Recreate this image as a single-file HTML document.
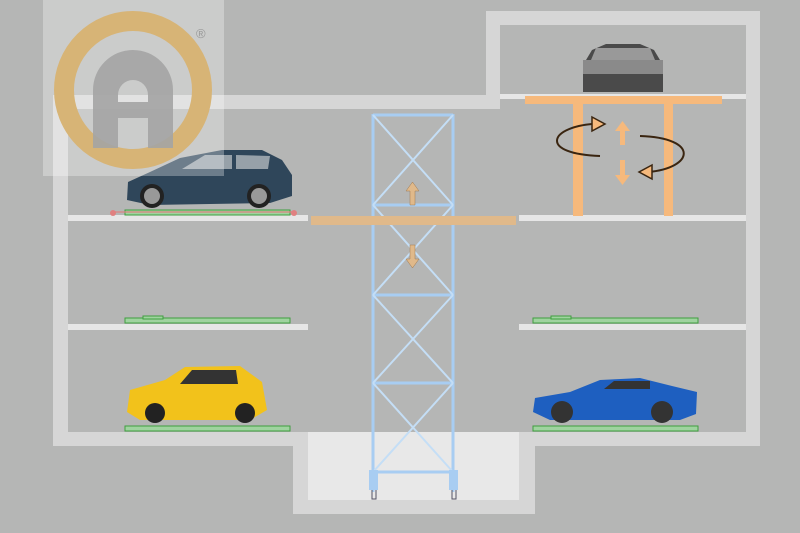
<!DOCTYPE html>
<html><head><meta charset="utf-8"><style>html,body{margin:0;padding:0;background:#b5b6b5}svg{display:block}</style></head>
<body>
<svg width="800" height="533" viewBox="0 0 800 533" xmlns="http://www.w3.org/2000/svg">
<rect width="800" height="533" fill="#b5b6b5"/>
<!-- walls -->
<g fill="#d6d6d6">
<rect x="53" y="95" width="447" height="14"/>
<rect x="486" y="11" width="274" height="14"/>
<rect x="486" y="11" width="14" height="98"/>
<rect x="746" y="11" width="14" height="435"/>
<rect x="53" y="95" width="15" height="351"/>
<rect x="53" y="432" width="255" height="14"/>
<rect x="519" y="432" width="241" height="14"/>
<rect x="293" y="432" width="15" height="82"/>
<rect x="519" y="432" width="16" height="82"/>
<rect x="293" y="500" width="242" height="14"/>
</g>
<rect x="308" y="432" width="211" height="68" fill="#e8e8e8"/>
<rect x="500" y="94" width="246" height="5" fill="#e6e6e6"/>
<!-- slabs -->
<g fill="#e6e6e6">
<rect x="68" y="215" width="240" height="6"/>
<rect x="519" y="215" width="227" height="6"/>
<rect x="68" y="324" width="240" height="6"/>
<rect x="519" y="324" width="227" height="6"/>
</g>
<!-- tower -->
<g stroke="#a8cdf2" stroke-width="3" fill="none">
<line x1="373" y1="114" x2="373" y2="492"/>
<line x1="453" y1="114" x2="453" y2="492"/>
<line x1="373" y1="115" x2="453" y2="115"/>
<line x1="373" y1="205" x2="453" y2="205"/>
<line x1="373" y1="295" x2="453" y2="295"/>
<line x1="373" y1="383" x2="453" y2="383"/>
<line x1="373" y1="472" x2="453" y2="472"/>
</g>
<g stroke="#c4def6" stroke-width="2" fill="none">
<path d="M373 115 L453 205 M453 115 L373 205 M373 205 L453 295 M453 205 L373 295 M373 295 L453 383 M453 295 L373 383 M373 383 L453 472 M453 383 L373 472"/>
</g>
<rect x="369" y="470" width="9" height="20" fill="#a8cdf2"/>
<rect x="449" y="470" width="9" height="20" fill="#a8cdf2"/>
<path d="M372 490v9h4v-9M452 490v9h4v-9" stroke="#556" stroke-width="1" fill="none"/>
<!-- platform -->
<rect x="311" y="216" width="205" height="9" fill="#e0b98a"/>
<g fill="#e0b98a" stroke="#a07a50" stroke-width="0.5">
<path d="M410 205h5v-14h4l-6.5-9-6.5 9h4z"/>
<path d="M410 245h5v14h4l-6.5 9-6.5-9h4z"/>
</g>
<!-- right lift -->
<g fill="#f6b97c">
<rect x="525" y="96" width="197" height="8"/>
<rect x="573" y="104" width="10" height="112"/>
<rect x="664" y="104" width="9" height="112"/>
<path d="M620 145h5v-14h5l-7.5-10-7.5 10h5z"/>
<path d="M620 160h5v15h5l-7.5 10-7.5-10h5z"/>
</g>
<g fill="none" stroke="#3a2510" stroke-width="2">
<path d="M600 156 C540 154 548 128 592 124"/>
<path d="M640 136 C700 138 694 168 648 172"/>
</g>
<path d="M592 117 L605 124 L592 131 Z" fill="#f6b97c" stroke="#3a2510" stroke-width="1.5"/>
<path d="M652 165 L639 172 L652 179 Z" fill="#f6b97c" stroke="#3a2510" stroke-width="1.5"/>
<!-- green pallets -->
<g fill="#9fd39f" stroke="#3f9f3f" stroke-width="1">
<rect x="125" y="318" width="165" height="5"/><rect x="143" y="316" width="20" height="3"/>
<rect x="533" y="318" width="165" height="5"/><rect x="551" y="316" width="20" height="3"/>
<rect x="125" y="426" width="165" height="5"/>
<rect x="533" y="426" width="165" height="5"/>
<rect x="125" y="210" width="165" height="5"/>
</g>
<g fill="#e08080"><circle cx="113" cy="213" r="3"/><circle cx="294" cy="213" r="3"/><rect x="113" y="211" width="181" height="2" opacity="0.6"/></g>
<!-- cars -->
<g>
<path d="M127 200 L128 182 L150 172 L180 158 L222 150 L262 150 L282 160 L292 175 L292 196 L270 203 L150 205 Z" fill="#2f465a"/>
<path d="M182 169 L205 155 L232 155 L232 169 Z M236 155 L270 156 L268 169 L236 169 Z" fill="#ddd" opacity="0.6"/>
<circle cx="152" cy="196" r="12" fill="#222"/><circle cx="152" cy="196" r="8" fill="#999"/>
<circle cx="259" cy="196" r="12" fill="#222"/><circle cx="259" cy="196" r="8" fill="#999"/>
</g>
<g>
<path d="M127 412 L130 390 L165 380 L185 367 L240 366 L262 382 L267 410 L250 420 L140 420 Z" fill="#f2c21b"/>
<path d="M180 384 L192 370 L236 370 L238 384 Z" fill="#333"/>
<circle cx="155" cy="413" r="10" fill="#222"/><circle cx="245" cy="413" r="10" fill="#222"/>
</g>
<g>
<path d="M533 412 L535 398 L570 392 L600 380 L640 378 L672 386 L697 392 L696 414 L680 420 L550 420 Z" fill="#1e5fc0"/>
<path d="M604 389 L614 381 L650 381 L650 389 Z" fill="#333"/>
<circle cx="562" cy="412" r="11" fill="#333"/><circle cx="662" cy="412" r="11" fill="#333"/>
</g>
<g>
<path d="M583 92 L583 65 L592 50 L606 44 L640 44 L654 50 L663 65 L663 92 Z" fill="#4a4a4a"/>
<path d="M596 48 L650 48 L655 60 L591 60 Z" fill="#999"/>
<rect x="583" y="60" width="80" height="14" fill="#8a8a8a"/>
</g>
<!-- logo -->
<rect x="43" y="0" width="181" height="176" fill="#ffffff" opacity="0.3"/>
<circle cx="133" cy="90" r="69" fill="none" stroke="#d7b476" stroke-width="20"/>
<path d="M93 148 V90 A40 40 0 0 1 173 90 V148 H148 V118 H118 V148 Z M118 102 H148 V95 A15 15 0 0 0 118 95 Z" fill="#a4a4a4" fill-rule="evenodd" opacity="0.9"/>
<text x="196" y="38" font-family="Liberation Sans, sans-serif" font-size="13" fill="#999">®</text>
</svg>
</body></html>
